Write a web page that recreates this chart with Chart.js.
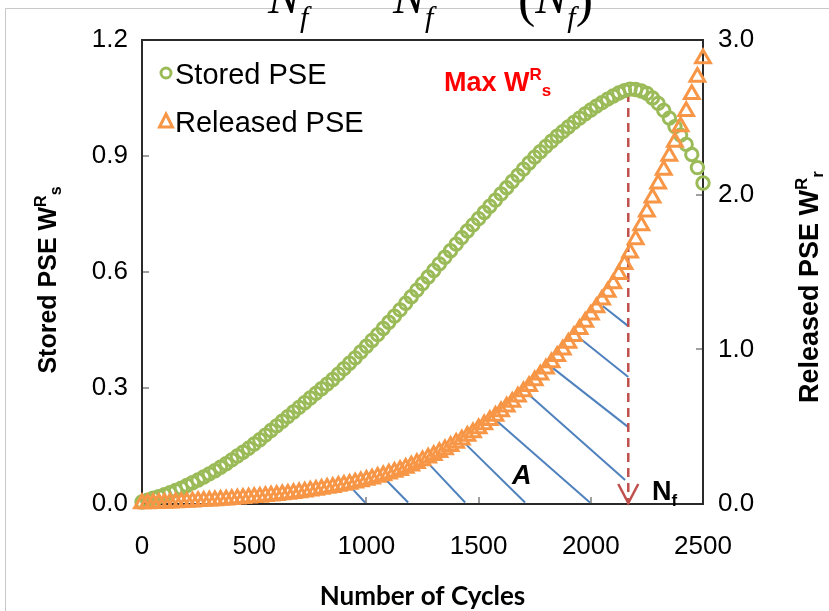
<!DOCTYPE html>
<html><head><meta charset="utf-8">
<script src="https://cdn.jsdelivr.net/npm/chart.js@4.4.0/dist/chart.umd.min.js"></script>
<style>html,body{margin:0;padding:0;background:#fff}#wrap{position:relative;width:829px;height:611px}</style>
</head><body><div id="wrap"><canvas id="c" width="829" height="611"></canvas></div>
<script>
// ---- data ----
const cycles = [0,25,50,75,100,125,150,175,200,225,250,275,300,325,350,375,400,425,450,475,500,525,550,575,600,625,650,675,700,725,750,775,800,825,850,875,900,925,950,975,1000,1025,1050,1075,1100,1125,1150,1175,1200,1225,1250,1275,1300,1325,1350,1375,1400,1425,1450,1475,1500,1525,1550,1575,1600,1625,1650,1675,1700,1725,1750,1775,1800,1825,1850,1875,1900,1925,1950,1975,2000,2025,2050,2075,2100,2125,2150,2175,2200,2225,2250,2275,2300,2325,2350,2375,2400,2425,2450,2475,2500];
const storedPSE = [0.005,0.010,0.015,0.019,0.024,0.029,0.035,0.041,0.048,0.055,0.062,0.070,0.078,0.086,0.095,0.104,0.114,0.124,0.134,0.144,0.155,0.166,0.178,0.190,0.202,0.214,0.226,0.238,0.250,0.262,0.274,0.286,0.298,0.310,0.322,0.336,0.350,0.364,0.378,0.393,0.408,0.423,0.438,0.454,0.470,0.486,0.502,0.519,0.536,0.553,0.570,0.587,0.604,0.621,0.638,0.655,0.672,0.689,0.706,0.722,0.738,0.754,0.770,0.786,0.802,0.818,0.834,0.850,0.866,0.882,0.897,0.911,0.925,0.938,0.951,0.963,0.975,0.987,0.998,1.009,1.019,1.029,1.038,1.047,1.055,1.063,1.069,1.073,1.072,1.068,1.062,1.050,1.036,1.018,0.998,0.976,0.954,0.930,0.904,0.870,0.830];
const releasedPSE = [0.003,0.004,0.005,0.006,0.007,0.008,0.010,0.011,0.013,0.015,0.017,0.019,0.021,0.023,0.026,0.028,0.031,0.034,0.037,0.040,0.043,0.046,0.050,0.053,0.057,0.061,0.065,0.070,0.075,0.080,0.085,0.091,0.097,0.103,0.109,0.116,0.123,0.130,0.138,0.146,0.155,0.164,0.174,0.184,0.195,0.207,0.219,0.233,0.248,0.264,0.281,0.299,0.316,0.334,0.353,0.373,0.394,0.416,0.439,0.463,0.488,0.514,0.541,0.569,0.598,0.628,0.660,0.693,0.727,0.762,0.798,0.836,0.875,0.915,0.956,0.998,1.041,1.085,1.130,1.176,1.223,1.271,1.320,1.370,1.425,1.485,1.550,1.625,1.710,1.800,1.890,1.980,2.070,2.160,2.250,2.340,2.440,2.540,2.650,2.760,2.880];
const xTickLabels = [0,500,1000,1500,2000,2500];
const leftTickLabels = [0.0,0.3,0.6,0.9,1.2];
const rightTickLabels = [0.0,1.0,2.0,3.0];
// vertical marker at N_f (cycles) from the max stored PSE down to zero
const nfCycle = [2167,2167];
const nfLine = [1.063,0.0];
// hatch lines of area A (released-PSE axis)
const hatchX0 = [941,1090,1276,1439,1580,1722,1830,1944,2053];
const hatchY0 = [0.093,0.152,0.263,0.392,0.539,0.710,0.880,1.080,1.280];
const hatchX1 = [994,1186,1440,1707,1996,2153,2167,2167,2167];
const hatchY1 = [0.01,0.01,0.01,0.01,0.01,0.155,0.497,0.821,1.150];

const GREEN='#9BBB59', ORANGE='#F79646', BLUE='#4F81BD', DRED='#C0504D';
const SANS='"Liberation Sans", Arial, sans-serif';
const SERIF='"Liberation Serif", "Times New Roman", serif';

function runs(ctx, x, y, parts){
  let cx = x;
  for(const p of parts){ ctx.font = p.f; ctx.fillText(p.t, cx, y + (p.dy||0)); cx += ctx.measureText(p.t).width + (p.gap||0); }
  return cx - x;
}
function runsWidth(ctx, parts){ let w=0; for(const p of parts){ctx.font=p.f; w+=ctx.measureText(p.t).width+(p.gap||0);} return w; }

const deco = {
  id:'deco',
  beforeDraw(chart){
    const ctx=chart.ctx; ctx.save();
    ctx.fillStyle='#fff'; ctx.fillRect(0,0,chart.width,chart.height);
    ctx.strokeStyle='#c8c8c8'; ctx.lineWidth=1;
    ctx.beginPath(); ctx.moveTo(5.5,chart.height); ctx.lineTo(5.5,8.5); ctx.lineTo(chart.width,8.5); ctx.stroke();
    ctx.restore();
  },
  beforeDatasetsDraw(chart){
    const {ctx, chartArea:a, scales} = chart; ctx.save();
    ctx.strokeStyle='#808080'; ctx.lineWidth=1.5;
    ctx.beginPath();
    scales.x.ticks.forEach(t=>{const p=Math.round(scales.x.getPixelForValue(t.value)); ctx.moveTo(p,a.bottom); ctx.lineTo(p,a.bottom-7);});
    scales.y.ticks.forEach(t=>{const p=Math.round(scales.y.getPixelForValue(t.value)); ctx.moveTo(a.left,p); ctx.lineTo(a.left+7,p);});
    scales.y2.ticks.forEach(t=>{const p=Math.round(scales.y2.getPixelForValue(t.value)); ctx.moveTo(a.right,p); ctx.lineTo(a.right-7,p);});
    ctx.stroke();
    ctx.strokeStyle='#2a2a2a'; ctx.lineWidth=2;
    ctx.strokeRect(a.left, a.top, a.right-a.left, a.bottom-a.top);
    ctx.restore();
  },
  afterDatasetsDraw(chart){
    const {ctx, chartArea:a, scales} = chart; ctx.save();
    // arrow head at N_f
    const ax = scales.x.getPixelForValue(nfCycle[1]), ay = scales.y.getPixelForValue(nfLine[1]) - 1;
    ctx.strokeStyle=DRED; ctx.lineWidth=2.5; ctx.beginPath();
    ctx.moveTo(ax-10, ay-19); ctx.lineTo(ax, ay); ctx.lineTo(ax+10, ay-19); ctx.stroke();
    // legend
    ctx.lineWidth=3; ctx.strokeStyle=GREEN; ctx.beginPath(); ctx.arc(166,73,5,0,Math.PI*2); ctx.stroke();
    ctx.strokeStyle=ORANGE; ctx.beginPath(); ctx.moveTo(166,114); ctx.lineTo(172.5,127); ctx.lineTo(159.5,127); ctx.closePath(); ctx.stroke();
    ctx.fillStyle='#000'; ctx.textBaseline='alphabetic'; ctx.textAlign='left';
    ctx.font='29px '+SANS; ctx.fillText('Stored PSE',175,84); ctx.fillText('Released PSE',175,132);
    // Max W^R_s
    ctx.fillStyle='#FF0000';
    runs(ctx, 444, 91, [{t:'Max W',f:'bold 27px '+SANS},{t:'R',f:'bold 17px '+SANS,dy:-11},{t:'s',f:'bold 17px '+SANS,dy:5}]);
    // A and N_f
    ctx.fillStyle='#000';
    ctx.font='italic bold 27px '+SANS; ctx.fillText('A',512,484);
    runs(ctx, 652, 500, [{t:'N',f:'bold 27px '+SANS},{t:'f',f:'bold 17px '+SANS,dy:6}]);
    // axis titles
    const lt=[{t:'Stored PSE W',f:'bold 25px '+SANS},{t:'R',f:'bold 16px '+SANS,dy:-10},{t:'s',f:'bold 16px '+SANS,dy:5}];
    const lw=runsWidth(ctx,lt);
    ctx.save(); ctx.translate(56, (a.top+a.bottom)/2 + 8 + lw/2); ctx.rotate(-Math.PI/2); runs(ctx,0,0,lt); ctx.restore();
    const rt=[{t:'Released PSE W',f:'bold 27px '+SANS},{t:'R',f:'bold 17px '+SANS,dy:-11},{t:'r',f:'bold 17px '+SANS,dy:5}];
    const rw=runsWidth(ctx,rt);
    ctx.save(); ctx.translate(818, (a.top+a.bottom)/2 + 15 + rw/2); ctx.rotate(-Math.PI/2); runs(ctx,0,0,rt); ctx.restore();
    ctx.font='bold 26px Lato, '+SANS; ctx.textAlign='center'; ctx.fillText('Number of Cycles', (a.left+a.right)/2, 605);
    ctx.textAlign='left';
    // cut-off formula at the top
    runs(ctx, 268, 13, [{t:'N',f:'italic 48px '+SERIF},{t:'f',f:'italic 30px '+SERIF,dy:14}]);
    runs(ctx, 393, 13, [{t:'N',f:'italic 48px '+SERIF},{t:'f',f:'italic 30px '+SERIF,dy:14}]);
    runs(ctx, 518, 16, [{t:'(',f:'52px '+SERIF},{t:'N',f:'italic 48px '+SERIF,dy:-3},{t:'f',f:'italic 30px '+SERIF,dy:11},{t:')',f:'52px '+SERIF}]);
    ctx.restore();
  }
};

const pts = (xs, ys) => xs.map((x,i)=>({x, y:ys[i]}));
const datasets = [
  {label:'Released PSE', data:pts(cycles,releasedPSE), yAxisID:'y2', pointStyle:'triangle', pointRadius:8.5, pointBorderWidth:3,
   borderColor:ORANGE, pointBorderColor:ORANGE, pointBackgroundColor:'rgba(0,0,0,0)', backgroundColor:'rgba(0,0,0,0)', showLine:false, order:0, clip:false},
  {label:'Stored PSE', data:pts(cycles,storedPSE), yAxisID:'y', pointStyle:'circle', pointRadius:6.2, pointBorderWidth:3,
   borderColor:GREEN, pointBorderColor:GREEN, pointBackgroundColor:'rgba(0,0,0,0)', backgroundColor:'rgba(0,0,0,0)', showLine:false, order:1, clip:false},
  {label:'Nf', data:pts(nfCycle,nfLine), yAxisID:'y', showLine:true, pointRadius:0, borderColor:DRED, borderWidth:2.5, borderDash:[9,6], order:2, clip:false}
];
hatchX0.forEach((x0,i)=>datasets.push({label:'hatch'+i, data:[{x:x0,y:hatchY0[i]},{x:hatchX1[i],y:hatchY1[i]}], yAxisID:'y2', showLine:true, pointRadius:0, borderColor:BLUE, borderWidth:2, order:3}));

new Chart(document.getElementById('c'), {
  type:'scatter',
  data:{datasets},
  options:{
    responsive:false, animation:false, devicePixelRatio:1,
    layout:{padding:{top:40,left:0,right:0,bottom:0}},
    plugins:{legend:{display:false}, tooltip:{enabled:false}},
    scales:{
      x:{type:'linear', min:0, max:2500, afterFit:s=>{s.height=107;},
         afterBuildTicks:s=>{s.ticks=xTickLabels.map(v=>({value:v}));},
         grid:{display:false, drawTicks:false}, border:{display:false},
         ticks:{padding:27, color:'#000', font:{family:SANS, size:26}, callback:v=>String(v), maxRotation:0}},
      y:{type:'linear', position:'left', min:0, max:1.2, afterFit:s=>{s.width=142;},
         afterBuildTicks:s=>{s.ticks=leftTickLabels.map(v=>({value:v}));},
         grid:{display:false, drawTicks:false}, border:{display:false},
         ticks:{padding:14, color:'#000', font:{family:SANS, size:26}, callback:v=>Number(v).toFixed(1)}},
      y2:{type:'linear', position:'right', min:0, max:3.0, afterFit:s=>{s.width=126;},
         afterBuildTicks:s=>{s.ticks=rightTickLabels.map(v=>({value:v}));},
         grid:{display:false, drawTicks:false}, border:{display:false},
         ticks:{padding:15, color:'#000', font:{family:SANS, size:26}, callback:v=>Number(v).toFixed(1)}}
    }
  },
  plugins:[deco]
});
</script></body></html>
